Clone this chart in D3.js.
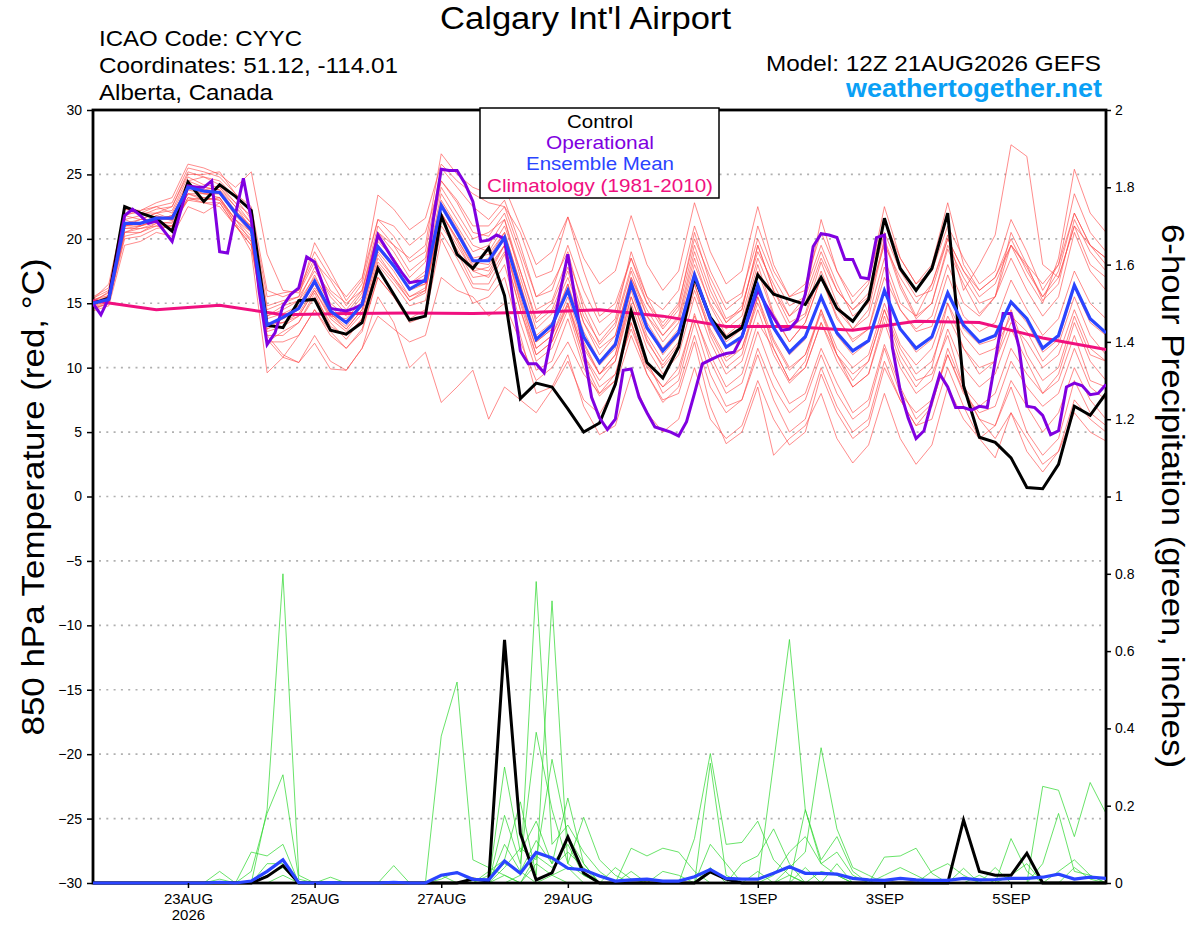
<!DOCTYPE html>
<meta charset="utf-8">
<script src="https://d3js.org/d3.v7.min.js"></script>
<style>
  body { margin: 0; background: #fff; }
  text { font-family: "Liberation Sans", Arial, Helvetica, sans-serif; }
</style>
<div id="chart"></div>
<script>

// ---- data (6-hourly from 12Z 21AUG2026, 65 points; operational is 3-hourly, 129 points)

var controlT = [15.0,15.4,22.5,22.0,21.6,20.6,24.4,22.9,24.2,23.3,22.2, 13.3,13.1,15.2,15.3,12.9,12.6,13.5,17.7,15.7,13.7,14.0,
  21.8,18.8,17.7,19.3,15.6,7.6,8.8,8.5,6.8,5.0,5.7,8.7,14.4,10.4,9.2,11.6,17.0,13.9,12.3,13.1,17.2,
  15.7,15.3,14.9,17.0,14.6,13.6,15.3,21.6,17.7,16.0,17.7,22.0,8.6,4.6,4.2,3.0,0.7,0.6,2.5,7.0,6.3,8.0];

var meanT = [15.0,15.3,21.2,21.2,21.6,21.6,24.0,23.7,23.6,22.0,20.7, 13.3,13.9,14.6,16.7,14.4,13.5,14.9,19.4,17.9,16.1,16.8,
  22.6,20.5,18.3,18.3,20.1,16.0,12.2,13.3,16.0,12.4,10.4,11.8,16.5,13.1,11.3,12.7,17.2,13.8,11.6,12.4,16.4,
  13.1,11.2,12.4,15.5,12.7,11.3,12.1,16.0,13.0,11.5,12.4,15.8,13.3,12.0,12.5,15.1,13.8,11.5,12.5,16.4,13.8,12.7];

var operT = [15.0,14.1,15.4,18.4,21.8,22.3,21.8,21.2,21.4,20.6,19.8,22.0,24.1,24.0,24.0,24.5,19.0,18.9,21.9,24.7,
  21.5,15.9,11.8,12.7,14.8,15.7,16.2,18.6,18.2,16.5,14.6,14.5,14.4,14.6,14.9,17.6,20.3,19.3,18.3,17.4,
  16.6,16.7,16.7,21.5,25.4,25.3,25.3,24.3,22.9,19.8,19.9,20.3,20.0,15.6,11.3,10.3,10.3,9.6,12.7,15.8,
  18.8,15.1,11.3,7.7,6.1,5.2,6.0,9.8,9.9,7.7,6.5,5.4,5.2,5.0,4.7,5.8,8.0,10.3,10.6,10.9,
  11.1,11.2,12.4,14.2,16.0,14.9,13.9,12.9,13.0,13.7,15.7,19.4,20.4,20.3,20.1,18.4,18.4,17.0,16.9,20.1,
  20.3,11.6,8.2,6.1,4.5,5.1,7.4,9.5,8.5,6.9,6.9,6.7,7.0,6.9,10.5,14.2,14.2,11.6,7.0,6.9,
  6.3,4.8,5.1,8.5,8.8,8.6,7.9,8.0,8.7];

// climatology, one value per day (every 4th step)
var climoT = [15.2,14.5,14.85,14.1,14.2,14.25,14.2,14.3,14.5,14.0,13.2,13.2,12.9,13.6,13.5,12.3,11.4];

var membersT = [
  [15.2,15.8,21.5,21.8,22.3,22.5,25.2,24.8,24.5,23.2,21.5, 14.0,14.5,15.2,17.8,15.5,14.2,15.8,20.5,19.0,17.0,18.2, 24.5,22.8,20.5,20.2,22.0,18.5,14.5,15.2,18.5, 15.0,12.5,13.8,19.0,15.5,13.2,14.8,20.5,16.5,13.8,14.5,19.5, 16.0,13.5,14.2,18.2,15.0,13.0,14.5,19.8,16.2,13.8,15.0,19.2, 16.5,14.2,15.5,20.5,18.0,15.2,16.5,21.5,19.0,17.5],
  [14.6,15.0,20.5,20.8,21.0,20.8,23.2,23.0,23.2,21.5,19.8, 12.0,12.8,13.5,15.5,13.5,12.2,13.8,18.0,16.5,14.8,15.2, 20.5,18.5,16.2,16.0,18.0,13.5,9.8,10.5,13.8, 10.0,7.8,9.0,13.5,10.2,8.5,9.5,14.2,10.5,8.0,8.8,12.8, 9.5,7.2,8.0,11.5,8.8,6.5,7.5,11.8,8.5,6.0,7.2,11.0, 8.2,6.0,5.5,8.5,5.0,3.2,4.5,9.0,6.5,5.5],
  [15.5,16.2,22.3,22.2,22.8,23.2,25.8,25.5,25.0,24.0,25.2, 18.8,16.0,15.8,18.2,16.8,14.8,16.5,21.5,20.2,18.2,19.0, 25.5,24.0,22.5,21.5,23.0,19.5,15.5,16.5,19.0, 14.5,11.8,13.2,17.5,14.0,12.5,13.8,18.5,14.8,12.5,13.5,18.0, 14.2,12.0,13.5,17.0,13.8,12.2,13.0,17.8,14.5,12.8,13.2,17.2, 14.0,12.8,13.5,16.8,14.5,12.5,13.8,17.5,15.0,13.8],
  [14.8,15.2,20.2,20.5,21.2,21.0,23.5,23.5,23.2,21.2,19.0, 9.6,10.8,12.5,14.5,12.8,11.5,13.0,17.0,15.5,13.8,14.5, 21.0,19.2,17.0,17.2,19.5,15.0,11.0,12.0,15.0, 11.5,9.5,10.5,15.5,12.2,10.0,11.5,16.5,13.0,10.8,11.5,15.5, 12.2,10.0,11.0,14.5,11.5,10.0,11.0,15.0,11.8,10.2,11.5,15.0, 12.5,11.0,11.5,14.0,12.8,10.5,11.8,15.5,12.5,11.0],
  [15.0,15.5,21.8,21.5,22.0,22.2,24.8,24.2,24.0,22.8,21.2, 14.5,15.0,15.5,19.7,17.5,15.2,16.8,23.4,22.3,20.7,21.6, 25.8,24.5,23.5,22.8,22.5,20.5,17.0,17.5,21.7, 17.5,14.0,15.0,18.5,15.5,14.5,16.0,21.0,17.5,15.0,15.8,20.0, 17.0,14.8,15.5,19.0,16.0,14.5,15.8,20.5,17.5,15.5,16.0,20.0, 17.5,16.0,17.0,19.5,17.8,15.5,17.5,22.0,19.5,18.0],
  [14.4,14.8,19.5,19.8,20.5,20.2,22.5,22.0,22.8,21.0,19.5, 12.5,11.0,10.4,12.5,10.5,9.8,11.5,15.5,13.5,10.0,11.2, 7.3,8.5,9.8,6.0,8.5,7.5,6.5,8.3,10.5, 7.5,6.4,8.5,12.5,9.5,7.3,8.5,12.5,8.5,6.5,7.5,11.5, 8.5,6.5,7.5,11.0,8.0,6.0,7.0,11.5,8.0,6.5,7.5,11.0, 8.0,6.5,7.0,10.5,8.5,7.0,8.0,11.5,8.5,7.5],
  [15.3,15.6,21.0,21.2,21.8,21.5,24.5,24.0,23.8,22.2,21.0, 13.8,14.2,14.8,16.5,14.0,13.8,15.2,19.8,18.5,16.5,17.5, 23.5,21.5,19.5,19.0,21.0,17.5,13.5,14.5,17.5, 13.5,11.5,12.5,17.0,14.0,12.0,13.5,18.0,15.0,13.0,14.0,18.5, 15.5,13.0,14.0,17.5,14.5,13.0,14.0,18.5,15.0,14.0,16.5,20.3, 16.0,18.0,20.3,27.3,26.4,18.0,17.0,21.0,19.5,18.5],
  [15.1,15.9,22.0,22.0,22.5,22.8,25.5,25.2,24.8,23.5,22.0, 15.5,15.8,16.0,18.5,16.0,15.0,16.0,21.0,19.5,18.5,19.5, 26.6,25.0,24.0,23.5,24.0,21.0,18.0,19.0,21.7, 18.5,16.5,17.5,21.8,18.0,16.0,17.5,22.8,19.0,16.5,17.5,22.5, 18.0,15.5,16.5,20.5,17.5,15.5,16.8,21.5,18.5,16.5,17.5,21.0, 18.5,16.5,17.5,21.5,19.0,16.0,18.0,23.5,20.5,19.0],
  [15.0,15.3,21.0,21.0,21.5,21.5,23.8,23.5,23.5,21.8,20.5, 13.0,13.8,14.5,16.5,14.2,13.2,14.8,19.2,17.8,16.0,16.5, 22.5,20.5,18.2,18.0,20.0,16.0,12.0,13.0,16.0, 12.5,10.2,11.5,16.5,13.2,11.0,12.5,17.0,13.5,11.5,12.2,16.2, 13.0,11.0,12.2,15.5,12.5,11.0,12.0,16.0,13.0,11.2,12.2,15.8, 13.0,11.8,12.2,15.0,13.5,11.2,12.2,16.2,13.5,12.5],
  [14.7,15.1,20.8,20.8,21.2,21.3,23.5,23.2,23.0,21.5,20.2, 12.8,13.2,14.0,16.0,13.8,12.8,14.2,18.5,17.0,15.2,16.0, 21.5,19.5,17.5,17.8,19.5,15.2,11.5,12.5,15.5, 11.8,9.5,11.0,15.5,12.0,10.2,11.8,16.0,12.8,10.5,11.5,15.0, 12.0,9.8,11.0,14.2,11.0,9.5,10.5,14.5,11.0,9.0,9.5,12.5, 8.5,6.0,4.5,6.5,3.5,1.9,3.5,6.5,5.0,4.3],
  [14.9,15.4,21.2,21.5,21.5,21.8,24.2,24.0,23.8,22.5,21.2, 13.5,13.5,14.2,16.2,14.5,13.5,15.0,19.5,18.0,16.2,16.5, 22.0,19.8,17.5,17.0,19.0,14.5,10.5,11.5,14.5, 10.5,8.0,9.0,13.5,9.5,7.5,8.0,12.0,7.0,4.1,5.0,8.5, 3.2,4.5,5.5,8.0,4.5,2.6,4.0,8.0,4.5,2.5,4.0,8.5, 6.0,4.5,5.5,9.0,7.0,5.0,6.5,10.0,7.5,6.0],
  [15.4,16.0,21.8,22.2,22.5,22.0,24.5,24.8,24.2,22.8,21.8, 14.8,15.2,15.5,17.5,15.8,14.5,16.0,20.5,19.5,17.5,18.5, 24.0,22.0,20.0,20.5,21.5,17.5,13.8,15.0,17.8, 14.0,12.0,13.5,17.8,15.0,13.0,14.5,19.5,16.0,13.5,14.8,19.0, 16.5,14.0,15.0,18.5,16.0,14.5,15.5,19.5,17.0,15.0,16.5,20.0, 17.5,15.5,16.5,19.5,18.0,16.5,18.0,22.0,19.5,18.5],
  [14.5,15.0,20.0,20.2,20.8,21.0,23.0,22.8,22.5,21.0,19.8, 12.5,12.5,13.5,15.8,13.2,12.5,13.8,18.2,16.8,15.2,15.8, 21.8,19.0,16.5,16.5,18.8,14.5,11.0,12.0,14.8, 11.0,9.0,10.5,15.0,11.5,9.5,11.0,15.5,12.0,9.5,10.5,14.5, 11.0,8.8,10.0,13.5,10.5,8.5,9.5,13.5,10.0,8.0,9.0,13.0, 10.0,8.5,9.5,13.0,10.5,8.0,9.5,13.5,10.5,9.0],
  [15.0,15.2,20.5,21.0,21.3,21.2,23.0,23.2,23.0,21.2,20.0, 12.2,10.8,10.4,11.9,9.9,9.8,11.5,14.0,13.0,12.0,12.5, 17.0,16.0,15.5,14.0,15.0,12.0,9.0,10.0,12.0, 9.5,8.0,9.5,13.0,10.0,8.5,10.0,14.0,11.0,8.5,9.5,13.5, 11.5,9.0,10.0,13.5,11.0,9.0,10.5,14.5,11.5,9.5,10.5,14.0, 11.5,10.0,10.5,13.5,12.0,10.0,11.0,14.5,11.5,10.5],
  [15.2,15.5,21.5,21.0,21.5,21.8,24.0,23.8,23.5,22.0,21.0, 14.0,14.8,15.2,17.0,15.0,14.0,15.5,20.0,18.5,16.5,17.2, 23.0,21.0,19.0,19.5,21.5,17.0,13.0,14.2,17.0, 13.5,11.0,12.5,17.0,14.5,12.5,14.0,19.0,15.5,13.5,14.5,19.5, 16.0,14.0,15.5,21.5,17.5,15.0,16.5,22.5,18.5,16.5,18.0,22.8, 18.0,16.0,17.0,20.0,17.5,15.5,17.0,21.0,18.0,17.0],
  [14.9,15.6,21.0,21.5,22.0,21.5,24.2,23.8,24.0,22.5,20.8, 13.2,14.0,14.8,17.2,14.8,13.5,15.0,19.5,18.0,16.0,17.0, 22.8,20.8,18.5,18.8,20.5,16.5,12.5,13.5,16.5, 12.8,10.5,12.0,16.8,13.5,11.5,13.0,17.5,14.0,12.0,13.0,17.5, 14.0,12.0,13.5,17.0,14.0,12.0,13.0,17.0,14.5,13.0,14.0,18.0, 15.0,14.0,15.5,19.5,17.0,15.0,18.5,25.4,22.0,20.5],
  [15.1,15.3,21.0,21.2,21.8,21.4,23.5,23.0,23.2,21.5,20.5, 13.0,13.5,14.0,16.0,14.0,13.0,14.5,18.8,17.0,15.5,16.2, 22.0,20.0,18.0,18.5,20.5,16.5,12.0,13.0,16.5, 12.0,9.5,11.0,16.0,12.5,10.5,12.0,16.5,12.5,10.0,11.0,15.5, 11.5,9.0,10.5,14.5,11.0,8.5,9.5,14.0,10.5,8.5,10.0,15.0, 11.5,9.5,10.5,14.5,11.0,9.0,10.0,14.0,11.0,10.5],
  [14.6,15.0,20.5,20.5,21.0,21.0,23.2,22.8,22.8,21.0,19.5, 12.0,12.0,12.5,14.5,12.5,11.5,12.8,17.0,15.5,13.5,14.0, 20.0,17.5,15.0,15.5,17.0,12.5,8.0,8.5,11.0, 7.0,4.8,5.5,9.5,6.5,5.0,6.0,10.0,6.0,4.5,5.5,9.0, 6.0,4.0,5.0,9.5,6.5,4.5,5.5,10.0,7.5,5.5,7.0,11.5, 8.5,7.0,8.0,11.5,9.5,8.0,9.0,12.5,9.0,8.5],
  [15.3,16.5,22.3,22.0,22.0,22.5,25.0,25.0,25.2,23.5,22.5, 16.0,15.5,16.0,19.0,17.0,15.5,17.0,21.5,21.0,19.5,20.5, 24.5,23.0,21.0,21.0,22.5,19.0,15.5,16.0,19.5, 16.0,13.5,14.5,18.5,15.0,13.5,15.0,20.0,17.0,14.5,15.5,21.0, 17.5,15.5,16.0,19.5,16.5,14.0,15.0,20.0,16.5,14.0,15.0,19.5, 17.0,15.0,15.5,18.5,16.0,14.0,15.5,20.5,17.5,16.0],
  [14.8,15.4,20.8,21.0,21.5,21.8,24.0,23.5,23.5,22.0,20.5, 13.2,13.8,14.5,16.8,14.2,13.0,14.5,19.0,17.5,15.5,16.0, 22.0,20.0,17.8,17.5,19.5,15.5,11.5,12.5,15.0, 11.0,8.5,9.5,14.0,10.5,8.0,9.0,13.5,9.5,7.0,7.5,11.0, 7.5,5.0,6.0,10.0,7.0,5.0,6.0,10.5,7.5,5.5,6.0,10.0, 7.0,4.5,3.0,6.5,4.5,2.5,3.5,7.5,6.0,5.0]
];

var controlP = [0,0,0,0,0,0,0,0,0,0, 0,0.017,0.045,0,0,0,0,0,0,0, 0,0,0,0,0.01,0.005,0.629,0.128,0.008,0.026,
  0.119,0.026,0,0,0,0,0,0,0,0.029, 0.01,0,0,0,0,0,0,0,0,0, 0,0,0,0,0,0.163,0.03,0.02,0.02,0.077, 0,0,0,0,0];

var meanP = [0,0,0,0,0,0,0,0,0.002,0, 0.005,0.03,0.06,0.001,0,0.001,0,0,0,0.002, 0,0,0.02,0.027,0.0095,0.008,0.057,0.025,0.079,0.065,
  0.038,0.034,0.018,0.005,0.008,0.01,0.005,0.005,0.016,0.035, 0.012,0.01,0.01,0.025,0.042,0.025,0.025,0.023,0.012,0.008,
  0.007,0.012,0.008,0.007,0.007,0.012,0.008,0.009,0.012,0.012, 0.015,0.023,0.01,0.015,0.012];

var membersP = [
  [0,0,0,0,0,0,0,0,0,0, 0,0.19,0.80,0.02,0,0,0,0,0,0, 0,0,0,0,0,0,0,0,0.05,0.02, 0,0,0,0,0.03,0,0,0,0,0.04, 0,0,0,0,0.02,0,0,0,0,0, 0,0,0,0,0,0,0,0,0,0, 0,0,0,0,0],
  [0,0,0,0,0,0,0,0,0,0, 0.03,0.18,0.28,0.01,0,0,0,0,0,0, 0,0,0.02,0,0,0,0.30,0.08,0.16,0.05, 0.22,0.05,0,0,0,0,0,0,0,0, 0,0,0,0,0,0,0.03,0.02,0,0, 0,0,0,0,0,0,0,0,0,0, 0,0,0,0,0],
  [0,0,0,0,0,0,0,0,0,0, 0.08,0.07,0.10,0,0,0,0,0,0,0, 0,0,0,0,0,0,0.175,0.05,0.39,0.19, 0.05,0.17,0.06,0.02,0,0,0,0,0.115,0.335, 0.10,0.105,0.16,0.06,0.02,0,0,0,0,0, 0.067,0.07,0.09,0.025,0,0,0,0,0,0, 0,0,0,0,0],
  [0,0,0,0,0,0,0,0,0.03,0, 0,0.05,0.05,0,0,0,0,0,0,0, 0,0,0,0,0,0.03,0.06,0.21,0.02,0.73, 0.05,0.02,0,0,0,0,0,0,0,0, 0,0,0,0.31,0.63,0.19,0.05,0.02,0,0, 0,0,0,0,0,0,0,0,0,0, 0,0,0,0,0],
  [0,0,0,0,0,0,0,0,0,0, 0,0,0,0,0,0,0,0,0,0, 0,0,0.38,0.52,0.06,0.04,0.02,0,0,0, 0,0,0,0,0.09,0.07,0.09,0.08,0.03,0, 0,0,0,0,0,0,0,0,0,0, 0,0,0,0,0,0,0,0,0.115,0.03, 0,0,0,0,0],
  [0,0,0,0,0,0,0,0,0,0, 0,0,0,0,0,0,0,0,0,0, 0,0,0,0,0,0,0,0.02,0.78,0.10, 0.15,0.08,0.03,0,0,0,0,0,0,0.31, 0.02,0,0,0,0.04,0.08,0.35,0.14,0.04,0.02, 0,0,0,0,0,0,0,0,0,0, 0,0,0,0,0],
  [0,0,0,0,0,0,0,0,0.01,0, 0,0,0,0,0,0.015,0,0,0,0.045, 0,0,0,0,0,0,0.04,0.09,0.06,0.32, 0.12,0.05,0,0,0,0,0,0,0,0, 0,0,0,0,0,0.19,0.06,0.12,0.03,0, 0,0,0,0,0,0,0,0,0,0, 0.25,0.24,0.12,0.26,0.18],
  [0,0,0,0,0,0,0,0,0,0, 0,0,0.02,0,0,0,0,0,0,0, 0,0,0,0,0,0.02,0.05,0.03,0.11,0.05, 0.10,0.02,0,0,0,0,0.03,0.02,0,0, 0,0.05,0.07,0.14,0.05,0,0,0,0,0, 0,0,0,0,0,0.038,0,0.04,0,0, 0.05,0.18,0.03,0.02,0],
  [0,0,0,0,0,0,0,0,0,0, 0,0,0,0,0,0,0,0,0,0, 0,0,0.01,0.03,0,0,0.02,0,0.07,0.04, 0.08,0.04,0,0.04,0.01,0,0,0,0,0.10, 0.05,0,0.03,0,0,0.04,0,0.05,0,0, 0.02,0.04,0.02,0,0,0,0.02,0,0.02,0.05, 0,0,0.04,0.01,0],
  [0,0,0,0,0,0,0,0,0,0, 0,0.02,0.04,0,0,0,0,0,0,0, 0,0,0,0,0,0,0.10,0.03,0,0.02, 0.04,0,0,0,0,0,0,0,0,0, 0,0,0,0.02,0.08,0.12,0.05,0.08,0.02,0, 0,0,0,0.03,0.05,0.02,0,0,0,0, 0,0.03,0.06,0.02,0]
];

var tickDates = ["2026-08-23","2026-08-25","2026-08-27","2026-08-29","2026-09-01","2026-09-03","2026-09-05"];
var tempTicks = d3.range(-30, 31, 5);
var precipTicks = d3.range(0, 11).map(function (k) { return k / 5; });

var legendItems = [
  { label: "Control", color: "#000000", len: 66 },
  { label: "Operational", color: "#8000e0", len: 108 },
  { label: "Ensemble Mean", color: "#2a44ff", len: 148 },
  { label: "Climatology (1981-2010)", color: "#f0107f", len: 226 }
];

// ---- layout
var width = 1200, height = 927;
var plotL = 93, plotR = 1106, plotT = 110, plotB = 883;
var HOUR = 3600 * 1000;
var t0 = Date.UTC(2026, 7, 21, 12);

var svg = d3.select("#chart")
  .append("svg")
  .attr("width", width)
  .attr("height", height);

var x = d3.scaleUtc()
  .domain([new Date(t0), new Date(t0 + 384 * HOUR)])
  .range([plotL, plotR]);
var yT = d3.scaleLinear().domain([-30, 30]).range([plotB, plotT]);
var yP = d3.scaleLinear().domain([0, 2]).range([plotB, plotT]);

function time6(i) { return new Date(t0 + i * 6 * HOUR); }
function time3(i) { return new Date(t0 + i * 3 * HOUR); }
function time24(i) { return new Date(t0 + i * 24 * HOUR); }

var line6T = d3.line().x(function (d, i) { return x(time6(i)); }).y(function (d) { return yT(d); });
var line3T = d3.line().x(function (d, i) { return x(time3(i)); }).y(function (d) { return yT(d); });
var line24T = d3.line().x(function (d, i) { return x(time24(i)); }).y(function (d) { return yT(d); });
var line6P = d3.line().x(function (d, i) { return x(time6(i)); }).y(function (d) { return yP(d); });

svg.append("clipPath").attr("id", "plotclip")
  .append("rect").attr("x", plotL).attr("y", plotT - 2).attr("width", plotR - plotL).attr("height", plotB - plotT + 4);

// dotted grid
svg.append("g")
  .selectAll("line")
  .data(tempTicks.filter(function (v) { return v > -30 && v < 30; }))
  .enter().append("line")
  .attr("x1", plotL + 6).attr("x2", plotR)
  .attr("y1", function (d) { return yT(d); })
  .attr("y2", function (d) { return yT(d); })
  .attr("stroke", "#b0b0b0")
  .attr("stroke-width", 1.6)
  .attr("stroke-dasharray", "2,5.3");

var plot = svg.append("g").attr("clip-path", "url(#plotclip)");

// ensemble members
plot.selectAll(".memT")
  .data(membersT).enter().append("path")
  .attr("class", "memT")
  .attr("d", line6T)
  .attr("fill", "none").attr("stroke", "#ff4a4a").attr("stroke-width", 0.8).attr("opacity", 0.8);

plot.selectAll(".memP")
  .data(membersP).enter().append("path")
  .attr("class", "memP")
  .attr("d", line6P)
  .attr("fill", "none").attr("stroke", "#2ed82e").attr("stroke-width", 0.8).attr("opacity", 0.9);

// frame (over the thin members, under the thick lines)
svg.append("rect")
  .attr("x", plotL).attr("y", plotT)
  .attr("width", plotR - plotL).attr("height", plotB - plotT)
  .attr("fill", "none").attr("stroke", "#000").attr("stroke-width", 2.8);

var plot2 = svg.append("g").attr("clip-path", "url(#plotclip)");

// main lines
plot2.append("path").attr("d", line24T(climoT))
  .attr("fill", "none").attr("stroke", "#f0107f").attr("stroke-width", 3);
plot2.append("path").attr("d", line6T(controlT))
  .attr("fill", "none").attr("stroke", "#000").attr("stroke-width", 3);
plot2.append("path").attr("d", line3T(operT))
  .attr("fill", "none").attr("stroke", "#8000e0").attr("stroke-width", 3);
plot2.append("path").attr("d", line6T(meanT))
  .attr("fill", "none").attr("stroke", "#2a44ff").attr("stroke-width", 3.2);
plot2.append("path").attr("d", line6P(controlP))
  .attr("fill", "none").attr("stroke", "#000").attr("stroke-width", 3);
plot2.append("path").attr("d", line6P(meanP))
  .attr("fill", "none").attr("stroke", "#2a44ff").attr("stroke-width", 3.2);

// axes
var fmt = d3.utcFormat("%-d%b");
var xAxis = svg.append("g")
  .attr("transform", "translate(0," + plotB + ")")
  .call(d3.axisBottom(x)
    .tickValues(tickDates.map(function (s) { return new Date(s + "T00:00:00Z"); }))
    .tickFormat(function (d) { return fmt(d).toUpperCase(); })
    .tickSize(5).tickPadding(5));
xAxis.select(".domain").remove();
xAxis.selectAll("line").attr("stroke", "#000").attr("stroke-width", 1.5);
xAxis.selectAll("text").attr("font-size", 15).attr("fill", "#000")
  .style("font-family", "'Liberation Sans', Arial, sans-serif");
xAxis.selectAll("text").filter(function (d, i) { return i === 0; })
  .append("tspan").attr("x", 0).attr("dy", "1.07em").text("2026");

var yAxisL = svg.append("g")
  .attr("transform", "translate(" + plotL + ",0)")
  .call(d3.axisLeft(yT).tickValues(tempTicks).tickSize(6).tickPadding(5));
yAxisL.select(".domain").remove();
yAxisL.selectAll("line").attr("stroke", "#000").attr("stroke-width", 1.5);
yAxisL.selectAll("text").attr("font-size", 14).attr("fill", "#000")
  .style("font-family", "'Liberation Sans', Arial, sans-serif");

var yAxisR = svg.append("g")
  .attr("transform", "translate(" + plotR + ",0)")
  .call(d3.axisRight(yP).tickValues(precipTicks)
    .tickFormat(function (d) { return String(+d.toFixed(1)); })
    .tickSize(5).tickPadding(4));
yAxisR.select(".domain").remove();
yAxisR.selectAll("line").attr("stroke", "#000").attr("stroke-width", 1.5);
yAxisR.selectAll("text").attr("font-size", 14).attr("fill", "#000")
  .style("font-family", "'Liberation Sans', Arial, sans-serif");

// legend
var lg = svg.append("g");
lg.append("rect")
  .attr("x", 480).attr("y", 108).attr("width", 239).attr("height", 90)
  .attr("fill", "#fff").attr("stroke", "#000").attr("stroke-width", 1.5);
lg.selectAll("text")
  .data(legendItems).enter().append("text")
  .attr("x", 600)
  .attr("y", function (d, i) { return 128 + i * 21.2; })
  .attr("text-anchor", "middle")
  .attr("font-size", 19)
  .attr("fill", function (d) { return d.color; })
  .attr("textLength", function (d) { return d.len; })
  .attr("lengthAdjust", "spacingAndGlyphs")
  .text(function (d) { return d.label; });

// header text
function label(txt, px, py, size, anchor, color, len, weight) {
  return svg.append("text")
    .attr("x", px).attr("y", py)
    .attr("font-size", size)
    .attr("text-anchor", anchor)
    .attr("fill", color)
    .attr("font-weight", weight || "normal")
    .attr("textLength", len)
    .attr("lengthAdjust", "spacingAndGlyphs")
    .text(txt);
}

label("Calgary Int'l Airport", 440, 29, 31, "start", "#000", 291);
label("ICAO Code: CYYC", 99, 46, 22, "start", "#000", 203);
label("Coordinates: 51.12, -114.01", 99, 73, 22, "start", "#000", 299);
label("Alberta, Canada", 99, 100, 22, "start", "#000", 174);
label("Model: 12Z 21AUG2026 GEFS", 1101, 71, 22, "end", "#000", 335);
label("weathertogether.net", 1102, 97, 25, "end", "#0aa0f5", 256, "bold");

// axis titles
svg.append("text")
  .attr("transform", "translate(44,497) rotate(-90)")
  .attr("text-anchor", "middle")
  .attr("font-size", 32)
  .attr("textLength", 477)
  .attr("lengthAdjust", "spacingAndGlyphs")
  .text("850 hPa Temperature (red, \u00B0C)");

svg.append("text")
  .attr("transform", "translate(1162,496) rotate(90)")
  .attr("text-anchor", "middle")
  .attr("font-size", 32)
  .attr("textLength", 544)
  .attr("lengthAdjust", "spacingAndGlyphs")
  .text("6-hour Precipitation (green, inches)");

</script>
